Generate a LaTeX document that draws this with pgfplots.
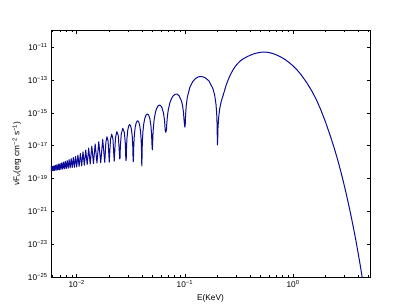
\documentclass[border=0pt]{standalone}
\usepackage{fontspec}
\setmainfont{Liberation Sans}
\usepackage{pgfplots}
\pgfplotsset{compat=1.18}
\definecolor{curve}{RGB}{10,10,150}
\begin{document}
\begin{tikzpicture}
\path[use as bounding box] (-51bp,-31bp) rectangle (360bp,277bp);
\begin{axis}[
  at={(0,0)}, anchor=south west,
  scale only axis, width=319bp, height=246.3bp,
  xmode=log, xmin=0.005785, xmax=5.15,
  ymin=-25, ymax=-10,
  ytick={-25,-23,-21,-19,-17,-15,-13,-11},
  yticklabels={10\textsuperscript{−25},10\textsuperscript{−23},10\textsuperscript{−21},10\textsuperscript{−19},10\textsuperscript{−17},10\textsuperscript{−15},10\textsuperscript{−13},10\textsuperscript{−11}},
  xtick={0.01,0.1,1},
  xticklabels={10\textsuperscript{−2},10\textsuperscript{−1},10\textsuperscript{0}},
  minor xtick={0.006,0.007,0.008,0.009,0.02,0.03,0.04,0.05,0.06,0.07,0.08,0.09,0.2,0.3,0.4,0.5,0.6,0.7,0.8,0.9,2,3,4,5},
  tick align=inside,
  major tick length=3bp, minor tick length=1.6bp,
  every tick/.style={black, line width=0.5pt},
  axis line style={black, line width=0.7pt},
  tick label style={font=\fontsize{8.3}{10}\selectfont},
  label style={font=\fontsize{8.3}{10}\selectfont},
  xlabel={E(KeV)},
  ylabel={\textit{ν}F\textsubscript{\textit{ν}}(erg cm\textsuperscript{−2} s\textsuperscript{−1})},
]
\addplot[curve, line width=1pt, line join=round, no marks] coordinates {
(0.0057143,-18.55) (0.0057971,-18.29) (0.0058824,-18.54) (0.0059701,-18.26)
(0.0060606,-18.53) (0.0061538,-18.23) (0.00625,-18.51) (0.0063492,-18.19)
(0.0064516,-18.50) (0.0065574,-18.16) (0.0066667,-18.48) (0.0067797,-18.12)
(0.0068966,-18.47) (0.0070175,-18.09) (0.0071429,-18.45) (0.0072727,-18.05)
(0.0074074,-18.43) (0.0075472,-18.01) (0.0076923,-18.41) (0.0078431,-17.96)
(0.008,-18.40) (0.0081633,-17.91) (0.0083333,-18.38) (0.0085106,-17.85)
(0.0086957,-18.36) (0.0088889,-17.79) (0.0090909,-18.34) (0.0093023,-17.72)
(0.0095238,-18.32) (0.0097561,-17.66) (0.01,-18.30) (0.010256,-17.57)
(0.010526,-18.27) (0.010811,-17.48) (0.011111,-18.23) (0.011429,-17.38)
(0.011765,-18.19) (0.012121,-17.27) (0.0125,-18.15) (0.012903,-17.15)
(0.013333,-18.12) (0.013793,-17.03) (0.014286,-18.09) (0.014815,-16.90)
(0.015385,-18.06) (0.016,-16.76) (0.016667,-18.04) (0.017391,-16.62)
(0.018182,-18.02) (0.018605,-16.80) (0.019048,-16.46) (0.019512,-16.72)
(0.02,-18.0) (0.020513,-16.64) (0.021053,-16.30) (0.021622,-16.57)
(0.022222,-17.95) (0.022857,-16.49) (0.023529,-16.14) (0.024242,-16.40)
(0.025,-17.81) (0.025141,-17.75) (0.025316,-17.06) (0.025806,-16.31)
(0.026667,-15.95) (0.027586,-16.20) (0.028169,-16.89) (0.028409,-17.66)
(0.028571,-17.91) (0.028694,-17.88) (0.028818,-17.28) (0.029112,-16.61)
(0.02963,-16.08) (0.030211,-15.81) (0.030769,-15.72) (0.031348,-15.76)
(0.032,-15.97) (0.032626,-16.44) (0.033003,-17.07) (0.033195,-17.82)
(0.033333,-17.97) (0.033501,-17.68) (0.033727,-16.94) (0.03413,-16.34)
(0.034783,-15.86) (0.035524,-15.60) (0.036364,-15.49) (0.037244,-15.52)
(0.038095,-15.71) (0.038911,-16.11) (0.039448,-16.67) (0.039761,-17.37)
(0.03988,-17.98) (0.04,-18.23) (0.04012,-17.95) (0.040241,-17.34)
(0.040486,-16.73) (0.040984,-16.12) (0.041667,-15.68) (0.042735,-15.31)
(0.043764,-15.135) (0.044944,-15.07) (0.046189,-15.13) (0.047393,-15.34)
(0.048544,-15.77) (0.049261,-16.33) (0.049628,-16.91) (0.05,-17.26)
(0.050378,-16.87) (0.050633,-16.42) (0.05102,-16.00) (0.051948,-15.44)
(0.053333,-15.00) (0.054795,-14.74) (0.056338,-14.59) (0.057971,-14.53)
(0.059701,-14.56) (0.061538,-14.70) (0.063492,-15.02) (0.064935,-15.49)
(0.065789,-16.06) (0.066667,-16.19) (0.067568,-16.04) (0.068027,-15.67)
(0.068966,-15.21) (0.070175,-14.84) (0.072727,-14.39) (0.075472,-14.11)
(0.078431,-13.95) (0.081633,-13.87) (0.085106,-13.87) (0.088889,-13.99)
(0.093023,-14.28) (0.095238,-14.57) (0.097087,-14.96) (0.098522,-15.53)
(0.1,-15.88) (0.100756,-15.75) (0.101523,-15.14) (0.103093,-14.53)
(0.105263,-14.07) (0.111111,-13.46) (0.117647,-13.12) (0.125,-12.92)
(0.133333,-12.81) (0.142857,-12.79) (0.153846,-12.86) (0.166667,-13.05)
(0.181818,-13.53) (0.188679,-13.92) (0.194175,-14.49) (0.197044,-15.08)
(0.19861,-15.73) (0.199402,-16.46) (0.2,-16.96) (0.201,-16.71)
(0.2025,-15.92) (0.205,-15.33) (0.21,-14.75) (0.217,-14.30)
(0.2265,-13.91) (0.24,-13.35) (0.25,-13.03) (0.261,-12.74)
(0.275,-12.45) (0.29,-12.21) (0.305,-12.03) (0.323,-11.86)
(0.345,-11.72) (0.37,-11.61) (0.4,-11.50) (0.429,-11.42)
(0.47,-11.35) (0.51,-11.31) (0.55,-11.30) (0.6,-11.33)
(0.65,-11.39) (0.7,-11.47) (0.78,-11.62) (0.85,-11.77)
(0.92,-11.94) (1.0,-12.14) (1.1,-12.42) (1.2,-12.72)
(1.35,-13.20) (1.5,-13.70) (1.65,-14.22) (1.8,-14.79)
(2.0,-15.57) (2.2,-16.36) (2.4,-17.13) (2.6,-17.91)
(2.8,-18.71) (3.0,-19.51) (3.2,-20.32) (3.4,-21.12)
(3.6,-21.92) (3.8,-22.72) (4.0,-23.54) (4.2,-24.35)
(4.4,-25.19) (4.6,-26.04)
};
\end{axis}
\end{tikzpicture}
\end{document}
